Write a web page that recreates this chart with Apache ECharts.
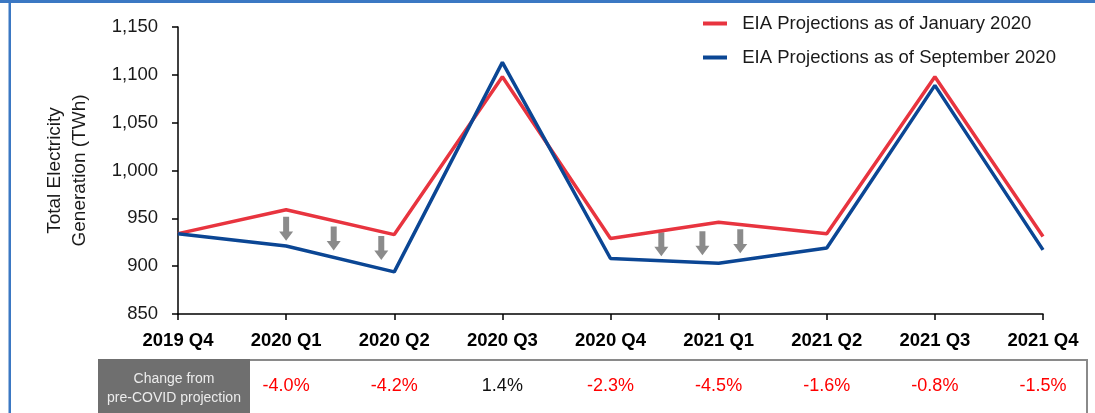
<!DOCTYPE html>
<html>
<head>
<meta charset="utf-8">
<script src="https://cdn.jsdelivr.net/npm/echarts@6/dist/echarts.min.js"></script>
<style>
html,body{margin:0;padding:0;background:#fff;}
#chart{width:1095px;height:413px;}
</style>
</head>
<body>
<div id="chart"></div>
<script>
// ---- data ----
const categories = ['2019 Q4','2020 Q1','2020 Q2','2020 Q3','2020 Q4','2021 Q1','2021 Q2','2021 Q3','2021 Q4'];
const janProjection = [934, 959, 933, 1098, 929, 946, 934, 1098, 931];
const sepProjection = [934, 921, 894, 1113, 908, 903, 919, 1089, 917];
const changeLabels = ['', '-4.0%', '-4.2%', '1.4%', '-2.3%', '-4.5%', '-1.6%', '-0.8%', '-1.5%'];
const seriesNames = ['EIA Projections as of January 2020', 'EIA Projections as of September 2020'];
// arrow annotations: [category position, value]
const arrowPoints = [[1.0, 939], [1.44, 929], [1.88, 919], [4.47, 923], [4.85, 924], [5.2, 926]];
const yTicks = {min: 850, max: 1150, interval: 50};
const yAxisTitle = 'Total Electricity\nGeneration (TWh)';
const rowHeader = 'Change from\npre-COVID projection';

const FONT = '"Liberation Sans", Arial, sans-serif';
const RED = '#e8343f';
const BLUE = '#0b4694';

const chart = echarts.init(document.getElementById('chart'));
const option = {
  animation: false,
  textStyle: {fontFamily: FONT},
  grid: {left: 178, right: 52, top: 27, bottom: 99, containLabel: false},
  legend: {
    orient: 'vertical',
    left: 698, top: 9,
    itemWidth: 24, itemHeight: 4, itemGap: 15,
    icon: 'rect',
    formatter: n => '  ' + n,
    textStyle: {fontSize: 18.5, color: '#1a1a1a', fontFamily: FONT},
    data: seriesNames
  },
  xAxis: [
    {
      type: 'category', data: categories, boundaryGap: false,
      axisLine: {lineStyle: {color: '#000', width: 1.5}},
      axisTick: {show: true, length: 6, lineStyle: {color: '#000', width: 1.5}},
      axisLabel: {fontSize: 18.5, fontWeight: 'bold', color: '#000', margin: 17, fontFamily: FONT}
    },
    {
      type: 'category', data: categories, boundaryGap: false, position: 'bottom', offset: 46,
      axisLine: {show: false}, axisTick: {show: false},
      axisLabel: {
        margin: 17, fontFamily: FONT,
        formatter: (v, i) => {
          const t = changeLabels[i];
          if (!t) return '';
          return t.charAt(0) === '-' ? '{r|' + t + '}' : '{k|' + t + '}';
        },
        rich: {
          r: {fontSize: 18, color: '#ff0000', fontFamily: FONT},
          k: {fontSize: 18, color: '#111', fontFamily: FONT}
        }
      }
    },
    {type: 'value', min: 0, max: categories.length - 1, show: false}
  ],
  yAxis: {
    type: 'value', min: yTicks.min, max: yTicks.max, interval: yTicks.interval,
    name: yAxisTitle, nameLocation: 'middle', nameGap: 86, nameRotate: 90,
    nameTextStyle: {fontSize: 19, color: '#1a1a1a', lineHeight: 25, fontFamily: FONT},
    axisLine: {show: true, lineStyle: {color: '#000', width: 1.5}},
    axisTick: {show: true, length: 6, lineStyle: {color: '#000', width: 1.5}},
    splitLine: {show: false},
    axisLabel: {fontSize: 18.5, color: '#1a1a1a', margin: 20, fontFamily: FONT,
      formatter: v => v.toLocaleString('en-US')}
  },
  series: [
    {
      name: seriesNames[0], type: 'line', data: janProjection, xAxisIndex: 0,
      symbol: 'none', color: RED, lineStyle: {width: 3.5, color: RED}, z: 3
    },
    {
      name: seriesNames[1], type: 'line', data: sepProjection, xAxisIndex: 0,
      symbol: 'none', color: BLUE, lineStyle: {width: 3.5, color: BLUE}, z: 4
    },
    {
      type: 'scatter', xAxisIndex: 2, data: arrowPoints,
      symbol: 'path://M4,0 L10,0 L10,14 L14,14 L7,23 L0,14 L4,14 Z',
      symbolSize: [14, 24], itemStyle: {color: '#6e6e6e'}, z: 2, silent: true
    }
  ],
  graphic: [
    {type: 'rect', shape: {x: 0, y: 0, width: 1095, height: 3}, style: {fill: '#3b78c3'}},
    {type: 'rect', shape: {x: 8.5, y: 0, width: 2.5, height: 413}, style: {fill: '#3b78c3'}},
    {type: 'rect', shape: {x: 98, y: 359, width: 152, height: 60}, style: {fill: '#6f6f6f'}},
    {type: 'text', x: 174, y: 389, style: {text: rowHeader, fill: '#ececec', font: '14px ' + FONT,
      textAlign: 'center', textVerticalAlign: 'middle', lineHeight: 19}},
    {type: 'line', shape: {x1: 250, y1: 360, x2: 1088, y2: 360}, style: {stroke: '#8a8a8a', lineWidth: 2}},
    {type: 'line', shape: {x1: 1087, y1: 359, x2: 1087, y2: 413}, style: {stroke: '#8a8a8a', lineWidth: 2}}
  ]
};
chart.setOption(option);
</script>
</body>
</html>
